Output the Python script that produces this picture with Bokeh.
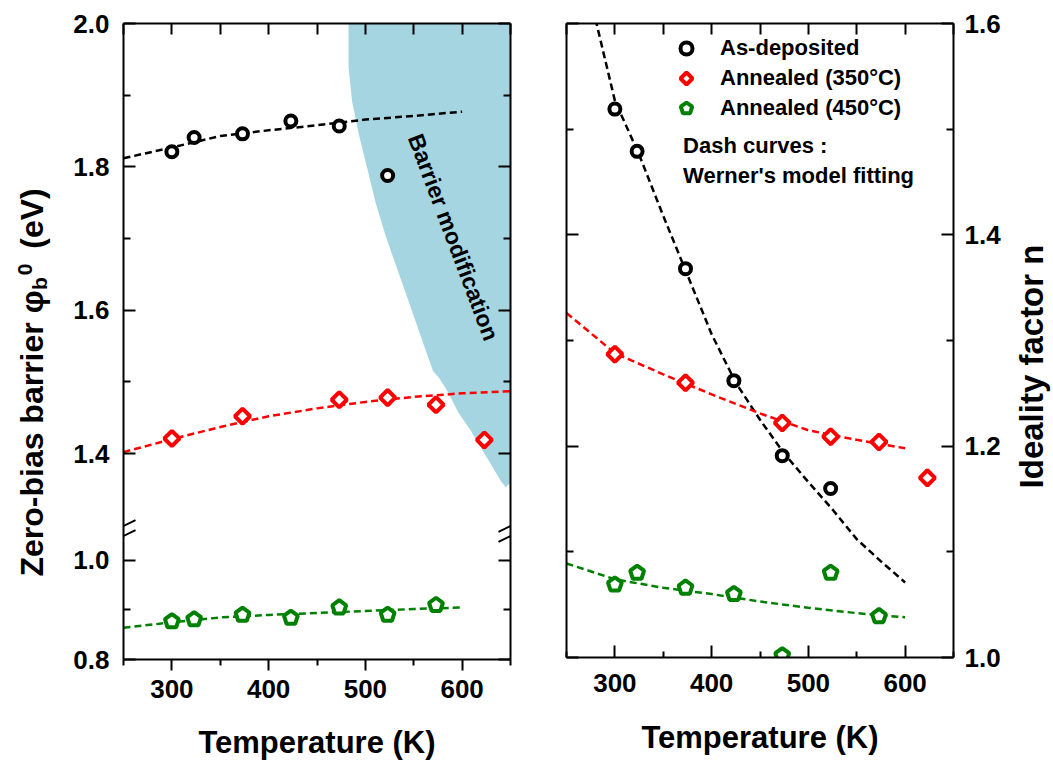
import math
from bokeh.plotting import figure
from bokeh.models import (Range1d, LinearAxis, FixedTicker, CustomJSTickFormatter,
                          NumeralTickFormatter, Label, Arrow, Legend, LegendItem)
from bokeh.layouts import row
from bokeh.embed import file_html
from bokeh.resources import INLINE
from bokeh.core.properties import value

# ---------------- data ----------------
T_asdep = [300, 323, 373, 423, 473, 523]
T_350 = [300, 373, 473, 523, 573, 623]
T_450 = [300, 323, 373, 423, 473, 523, 573]

# zero-bias barrier height (eV)
phi_asdep = [1.821, 1.841, 1.846, 1.864, 1.857, 1.788]
phi_350 = [1.421, 1.452, 1.475, 1.478, 1.468, 1.419]
phi_450 = [0.877, 0.881, 0.890, 0.884, 0.905, 0.890, 0.910]

# ideality factor n
n_asdep = [1.519, 1.479, 1.368, 1.262, 1.191, 1.160]
n_350 = [1.287, 1.260, 1.222, 1.209, 1.204, 1.170]
n_450 = [1.069, 1.080, 1.066, 1.060, 1.002, 1.080, 1.039]

# Werner's model fitting curves (dashed)
T_fit = [250, 300, 350, 400, 450, 500, 550, 600]
T_fit_ext = [250, 300, 350, 400, 450, 500, 550, 600, 650]
phi_fit_asdep = [1.812, 1.827, 1.843, 1.851, 1.858, 1.866, 1.871, 1.877]
phi_fit_350 = [1.402, 1.420, 1.437, 1.452, 1.463, 1.472, 1.479, 1.484, 1.487]
phi_fit_450 = [0.864, 0.875, 0.885, 0.890, 0.894, 0.898, 0.902, 0.905]

T_nfit_asdep = [280, 300, 325, 350, 375, 400, 425, 450, 475, 500, 525, 550, 575, 600]
n_fit_asdep = [1.604, 1.527, 1.476, 1.418, 1.362, 1.306, 1.260, 1.225, 1.193, 1.166,
               1.140, 1.112, 1.091, 1.071]
n_fit_350 = [1.326, 1.288, 1.268, 1.249, 1.231, 1.215, 1.206, 1.198]
n_fit_450 = [1.089, 1.074, 1.066, 1.060, 1.053, 1.047, 1.042, 1.038]

# "Barrier modification" shaded region (T, phi)
region_T = [482.4, 482.6, 482.6, 486.2, 493.2, 501.9, 510.6, 521.1, 533.3, 545.6, 557.7,
            569.9, 577.0, 585.6, 596.2, 608.4, 618.9, 629.3, 639.8, 645.0, 649.8, 652.9,
            655.0, 656.0, 656.0]
region_phi = [2.033, 2.000, 1.939, 1.892, 1.845, 1.798, 1.750, 1.703, 1.656, 1.609, 1.562,
              1.515, 1.504, 1.485, 1.457, 1.433, 1.409, 1.386, 1.362, 1.353, 1.359, 1.378,
              1.420, 1.615, 2.033]

x_major = [300, 400, 500, 600]
x_minor = [250, 350, 450, 550, 650]
x_top = [250, 300, 350, 400, 450, 500, 550, 600, 650]
phi_upper_major = [1.4, 1.6, 1.8, 2.0]
phi_upper_minor = [1.5, 1.7, 1.9]
phi_lower_major = [0.8, 1.0]
phi_lower_minor = [0.9]
n_major = [1.0, 1.2, 1.4, 1.6]
n_minor = [1.1, 1.3, 1.5]

legend_labels = ["As-deposited", "Annealed (350°C)", "Annealed (450°C)"]
x_title = "Temperature (K)"

# ---------------- style ----------------
FONT = "Liberation Sans"
BLACK, RED, GREEN = "#000000", "#FF0000", "#008000"
BLUE = "#A6D5E2"
DASH = "7 4"
H = 756                 # figure height

UP = (1.1126, 2.0)      # upper segment scale of broken axis
LOW = (0.8, 2.0848)     # lower segment scale (same frame)
K = (UP[1] - UP[0]) / (LOW[1] - LOW[0])


def up_pos(v):
    return UP[0] + (v - LOW[0]) * K


def style_axis(ax, tin=12, tout=0, min_in=7, min_out=0, labels=True, standoff=0):
    ax.axis_line_width = 2
    ax.axis_line_color = BLACK
    ax.major_tick_line_width = 2
    ax.minor_tick_line_width = 2
    ax.major_tick_line_color = BLACK
    ax.minor_tick_line_color = BLACK
    ax.major_tick_in = tin
    ax.major_tick_out = tout
    ax.minor_tick_in = min_in
    ax.minor_tick_out = min_out
    if labels:
        ax.major_label_text_font = FONT
        ax.major_label_text_font_style = "bold"
        ax.major_label_text_font_size = "26px"
        ax.major_label_text_color = BLACK
        ax.major_label_standoff = standoff
    else:
        ax.formatter = CustomJSTickFormatter(code="return ''")
        ax.major_label_text_font_size = "1px"
        ax.major_label_standoff = 0


def clean(p):
    p.outline_line_color = None
    p.background_fill_color = "white"
    p.border_fill_color = "white"
    p.grid.visible = False
    return p


def base_fig(frame_h, y_range, bl, br, bb):
    p = figure(frame_width=387, frame_height=frame_h, min_border_left=bl,
               min_border_right=br, min_border_top=23, min_border_bottom=bb,
               x_range=Range1d(250, 650), y_range=y_range,
               x_axis_location=None, y_axis_location=None,
               toolbar_location=None, output_backend="svg")
    return clean(p)


def text_fig(x0, x1):
    # a plain panel (pixel coordinates, y downwards) that only carries axis titles
    p = figure(frame_width=x1 - x0, frame_height=H, min_border=0,
               x_range=Range1d(x0, x1), y_range=Range1d(H, 0),
               x_axis_location=None, y_axis_location=None,
               toolbar_location=None, output_backend="svg")
    return clean(p)


def add_label(p, text, x, y, size, angle=0.0, align="left", baseline="alphabetic"):
    p.add_layout(Label(x=x, y=y, text=text, angle=angle, text_align=align,
                       text_baseline=baseline, text_font=FONT, text_font_style="bold",
                       text_font_size=size, text_color=BLACK))


def vtext(p, text, x, y, size):
    add_label(p, text, x, y, size, angle=math.pi / 2, align="center", baseline="middle")


def polygons(p, xs, ys, n, r, color, **kw):
    if hasattr(p, "ngon"):
        return p.ngon(x=xs, y=ys, radius=r, radius_units="screen", n=n, angle=0,
                      line_color=color, line_width=4, fill_color="white", **kw)
    mk = "hex" if n == 5 else "diamond"
    return p.scatter(xs, ys, marker=mk, size=2 * r, line_color=color, line_width=4,
                     fill_color="white", **kw)


def title_axis(ax, standoff):
    ax.axis_label = x_title
    ax.axis_label_text_font = FONT
    ax.axis_label_text_font_style = "bold"
    ax.axis_label_text_font_size = "31px"
    ax.axis_label_text_color = BLACK
    ax.axis_label_standoff = standoff


# ================= y-title panel (left) =================
tL = text_fig(0, 60)
vtext(tL, "Zero-bias barrier φ", 31.2, 410, "32px")
vtext(tL, "b", 38.7, 260, "21px")
vtext(tL, "0", 24.7, 246, "21px")
vtext(tL, "(eV)", 31.2, 195, "32px")

# ================= left panel: zero-bias barrier =================
pL = base_fig(636, Range1d(*UP), 63, 36, H - 23 - 636)
pL.extra_y_ranges = {"low": Range1d(*LOW)}

y_ticker = FixedTicker(ticks=[up_pos(v) for v in phi_lower_major] + phi_upper_major,
                       minor_ticks=[up_pos(v) for v in phi_lower_minor] + phi_upper_minor)
y_fmt = CustomJSTickFormatter(args=dict(up0=UP[0], low0=LOW[0], k=K, split=1.3),
                              code="let v = tick; if (tick < split) { v = low0 + (tick - up0) / k; } return v.toFixed(1);")

axl = LinearAxis(ticker=y_ticker, formatter=y_fmt)
style_axis(axl, standoff=14)
pL.add_layout(axl, "left")
axr = LinearAxis(ticker=y_ticker)
style_axis(axr, labels=False)
pL.add_layout(axr, "right")
axb = LinearAxis(ticker=FixedTicker(ticks=x_major, minor_ticks=x_minor))
style_axis(axb, tin=0, tout=11, min_in=0, min_out=6, standoff=9)
title_axis(axb, 24)
pL.add_layout(axb, "below")
axt = LinearAxis(ticker=FixedTicker(ticks=x_top, minor_ticks=[]))
style_axis(axt, tin=11, labels=False)
pL.add_layout(axt, "above")

pL.patch(region_T, region_phi, fill_color=BLUE, line_color=None)
pL.line(T_fit, phi_fit_asdep, line_color=BLACK, line_width=2.5, line_dash=DASH)
pL.line(T_fit_ext, phi_fit_350, line_color=RED, line_width=2.5, line_dash=DASH)
pL.line(T_fit, phi_fit_450, line_color=GREEN, line_width=2.5, line_dash=DASH,
        y_range_name="low")
pL.scatter(T_asdep, phi_asdep, marker="circle", size=11, line_color=BLACK,
           line_width=4, fill_color="white")
polygons(pL, T_350, phi_350, 4, 7.6, RED)
polygons(pL, T_450, phi_450, 5, 7.3, GREEN, y_range_name="low")

# axis break marks
pxT = 0.9675     # px per K
pxU = 716.7      # px per eV (upper scale)
y_brk = 1.2918
for xc in (250, 650):
    for dy0, dy1 in ((0.8, -10.9), (10.8, -0.9)):
        pL.add_layout(Arrow(end=None, x_start=xc - 12 / pxT, y_start=y_brk - dy0 / pxU,
                            x_end=xc + 12 / pxT, y_end=y_brk - dy1 / pxU,
                            line_width=2, line_color=BLACK))

add_label(pL, "Barrier modification", 591.1, 1.7018, "23px", angle=-1.211,
          align="center", baseline="middle")

# ================= right panel: ideality factor =================
pR = base_fig(634, Range1d(1.0, 1.6), 20, 52, H - 23 - 634)
n_ticker = FixedTicker(ticks=n_major, minor_ticks=n_minor)
ax = LinearAxis(ticker=n_ticker)
style_axis(ax, labels=False)
pR.add_layout(ax, "left")
ax = LinearAxis(ticker=n_ticker, formatter=NumeralTickFormatter(format="0.0"))
style_axis(ax, standoff=11)
pR.add_layout(ax, "right")
ax = LinearAxis(ticker=FixedTicker(ticks=x_major, minor_ticks=x_minor))
style_axis(ax, tin=12, min_in=6, standoff=16)
title_axis(ax, 25)
pR.add_layout(ax, "below")
ax = LinearAxis(ticker=FixedTicker(ticks=x_top, minor_ticks=[]))
style_axis(ax, tin=11, labels=False)
pR.add_layout(ax, "above")

pR.line(T_nfit_asdep, n_fit_asdep, line_color=BLACK, line_width=2.5, line_dash=DASH)
pR.line(T_fit, n_fit_350, line_color=RED, line_width=2.5, line_dash=DASH)
pR.line(T_fit, n_fit_450, line_color=GREEN, line_width=2.5, line_dash=DASH)
rc = pR.scatter(T_asdep, n_asdep, marker="circle", size=11, line_color=BLACK,
                line_width=4, fill_color="white")
rd = polygons(pR, T_350, n_350, 4, 7.6, RED)
rp = polygons(pR, T_450, n_450, 5, 7.3, GREEN)

legend = Legend(items=[LegendItem(label=value(legend_labels[0]), renderers=[rc]),
                       LegendItem(label=value(legend_labels[1]), renderers=[rd]),
                       LegendItem(label=value(legend_labels[2]), renderers=[rp])],
                location=(103, 534), orientation="vertical",
                glyph_width=34, glyph_height=30, label_height=30, label_standoff=17,
                spacing=0, padding=0, margin=0,
                border_line_color=None, background_fill_alpha=0,
                label_text_font=FONT, label_text_font_style="bold",
                label_text_font_size="22px", label_text_color=BLACK)
pR.add_layout(legend)

add_label(pR, "Dash curves :", 370.5, 1.4847, "22px", baseline="middle")
add_label(pR, "Werner's model fitting", 370.5, 1.4563, "22px", baseline="middle")

# ================= y-title panel (right) =================
tR = text_fig(1005, 1052)
vtext(tR, "Ideality factor n", 1030.6, 343, "33px")

layout = row(tL, pL, pR, tR)
open("out.html", "w").write(file_html(layout, INLINE))
